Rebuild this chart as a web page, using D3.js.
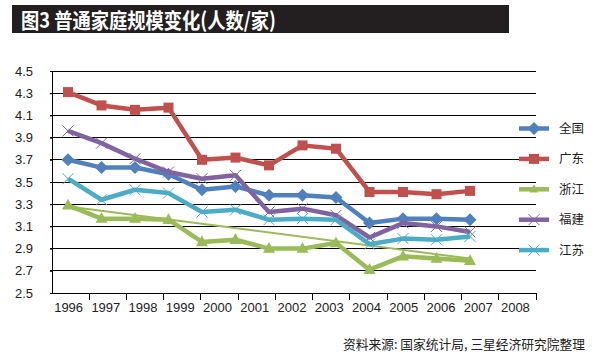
<!DOCTYPE html>
<html><head><meta charset="utf-8">
<script src="https://cdn.jsdelivr.net/npm/d3@7"></script>
<style>
html,body{margin:0;padding:0;background:#fff;}
svg{display:block;}
</style></head>
<body>
<svg id="c" width="600" height="360"></svg>
<script>
const years = ["1996","1997","1998","1999","2000","2001","2002","2003","2004","2005","2006","2007","2008"];
const yTicks = [2.5,2.7,2.9,3.1,3.3,3.5,3.7,3.9,4.1,4.3,4.5];
const seriesNames = ["全国","广东","浙江","福建","江苏"];
const quanguo  = [3.70,3.63,3.63,3.57,3.43,3.46,3.38,3.38,3.36,3.13,3.17,3.17,3.16];
const guangdong= [4.31,4.19,4.15,4.17,3.70,3.72,3.65,3.83,3.80,3.41,3.41,3.39,3.42];
const zhejiang = [3.29,3.17,3.17,3.16,2.96,2.98,2.90,2.90,2.95,2.71,2.83,2.81,2.79];
const fujian   = [3.96,3.85,3.71,3.59,3.53,3.56,3.23,3.26,3.20,3.00,3.13,3.10,3.05];
const jiangsu  = [3.53,3.34,3.43,3.40,3.23,3.25,3.16,3.17,3.16,2.94,2.99,2.98,3.01];
const zhejiangTrend = [3.28, 2.81]; // trend line end values, first and last point
const colors = ["#4f81bd","#c0504d","#9bbb59","#8064a2","#4bacc6"];
const markers = ["diamond","square","triangle","x","x"];
const titleText = "图3 普通家庭规模变化(人数/家)";
const sourceText = "资料来源: 国家统计局, 三星经济研究院整理";

(function(){
const allSeries = [quanguo, guangdong, zhejiang, fujian, jiangsu];
const svg = d3.select("#c");
const numFont = "'Liberation Sans', Arial, sans-serif";
const cjkFont = "'Noto Sans CJK SC', 'Liberation Sans', sans-serif";

// title bar
svg.append("rect").attr("x",12).attr("y",5).attr("width",497).attr("height",28).attr("fill","#231f20");
svg.append("text").attr("x",21).attr("y",27.5).attr("fill","#fff")
  .attr("font-family",cjkFont).attr("font-weight","bold").attr("font-size",21)
  .attr("textLength",255).attr("lengthAdjust","spacingAndGlyphs").text(titleText);

const pL=52, pR=536, pT=71, pB=293;
const y = d3.scaleLinear().domain([2.5,4.5]).range([pB, pT]);
const xBand = d3.scaleBand().domain(years).range([pL, pR]);
const xPt = d3.scalePoint().domain(years).range([68, 470]);

// gridlines
svg.append("g").selectAll("line").data(yTicks.slice(1)).join("line")
  .attr("x1",pL-2).attr("x2",pR).attr("y1",d=>y(d)).attr("y2",d=>y(d))
  .attr("stroke","#000").attr("stroke-width",1).attr("shape-rendering","crispEdges");

// y axis
const yAxis = svg.append("g").attr("transform",`translate(${pL},0)`)
  .call(d3.axisLeft(y).tickValues(yTicks).tickFormat(d3.format(".1f")).tickSize(2).tickPadding(17));
yAxis.select(".domain").attr("stroke","#000").attr("shape-rendering","crispEdges");
yAxis.selectAll(".tick line").attr("stroke","#000");
yAxis.selectAll("text").attr("font-family",numFont).attr("font-size",13).attr("fill","#222");

// x axis
const xAxis = svg.append("g").attr("transform",`translate(0,${pB})`)
  .call(d3.axisBottom(xBand).tickSize(0).tickPadding(10));
xAxis.select(".domain").attr("stroke","#000").attr("shape-rendering","crispEdges");
xAxis.selectAll("text").attr("font-family",numFont).attr("font-size",13).attr("fill","#222").attr("dx",-2);
const edges = years.map(d=>xBand(d)).concat([xBand(years[years.length-1])+xBand.bandwidth()]);
svg.append("g").selectAll("line").data(edges.slice(1)).join("line")
  .attr("x1",d=>d).attr("x2",d=>d).attr("y1",pB).attr("y2",pB+7)
  .attr("stroke","#000").attr("shape-rendering","crispEdges");

// marker drawing
function drawMarker(g, type, color, cx, cy, legend){
  if(type==="diamond"){
    const s = 6.5;
    g.append("path").attr("d",`M${cx},${cy-s}L${cx+s},${cy}L${cx},${cy+s}L${cx-s},${cy}Z`).attr("fill",color);
  } else if(type==="square"){
    const s = 5;
    g.append("rect").attr("x",cx-s).attr("y",cy-s).attr("width",2*s).attr("height",2*s).attr("fill",color);
  } else if(type==="triangle"){
    const s = legend?4.5:6;
    g.append("path").attr("d",`M${cx},${cy-s*1.1}L${cx+s},${cy+s*0.7}L${cx-s},${cy+s*0.7}Z`).attr("fill",color);
  } else {
    const s = 5.5;
    g.append("path").attr("d",`M${cx-s},${cy-s}L${cx+s},${cy+s}M${cx-s},${cy+s}L${cx+s},${cy-s}`)
      .attr("stroke",color).attr("stroke-width",1).attr("fill","none");
  }
}

const line = d3.line().x((d,i)=>xPt(years[i])).y(d=>y(d));
const plot = svg.append("g");
allSeries.forEach((vals,si)=>{
  const g = plot.append("g");
  g.append("path").attr("d",line(vals)).attr("fill","none").attr("stroke",colors[si])
    .attr("stroke-width",4.5).attr("stroke-linejoin","round");
  vals.forEach((v,i)=>drawMarker(g, markers[si], colors[si], xPt(years[i]), y(v), false));
  if(si===2){
    g.append("line").attr("x1",xPt(years[0])).attr("x2",xPt(years[years.length-1]))
      .attr("y1",y(zhejiangTrend[0])).attr("y2",y(zhejiangTrend[1]))
      .attr("stroke",colors[2]).attr("stroke-width",2);
  }
});

// legend
const lg = svg.append("g");
seriesNames.forEach((name,i)=>{
  const ly = 128.5 + i*30.4;
  lg.append("line").attr("x1",519).attr("x2",549).attr("y1",ly).attr("y2",ly)
    .attr("stroke",colors[i]).attr("stroke-width",4.5);
  drawMarker(lg, markers[i], colors[i], 534, ly, true);
  lg.append("text").attr("x",559).attr("y",ly+4.5).attr("font-family",cjkFont)
    .attr("font-size",12.5).attr("fill","#222").text(name);
});

// source
svg.append("text").attr("x",585).attr("y",349).attr("text-anchor","end")
  .attr("font-family",cjkFont).attr("font-size",13).attr("fill","#222")
  .attr("textLength",242).attr("lengthAdjust","spacingAndGlyphs").text(sourceText);
})();
</script>
</body></html>
